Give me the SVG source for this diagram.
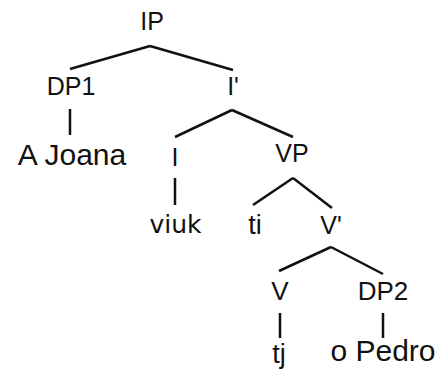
<svg xmlns="http://www.w3.org/2000/svg" width="437" height="374" viewBox="0 0 437 374">
<style>
text{font-family:"Liberation Sans",Arial,sans-serif;fill:#111;text-anchor:middle}
.cat{font-size:25px}
.cat2{font-size:26px}
.big{font-size:30px}
.mid{font-size:27px}
.dv{font-family:"DejaVu Sans",Verdana,sans-serif;font-size:25px}
.edges line{stroke:#111;stroke-width:2.5;stroke-linecap:butt}
</style>
<rect width="437" height="374" fill="#fff"/>
<g class="edges" id="connectors">
<line x1="150" y1="46" x2="70" y2="69"/>
<line x1="150" y1="46" x2="233" y2="70"/>
<line x1="70" y1="109" x2="70" y2="135"/>
<line x1="232" y1="110" x2="175" y2="137"/>
<line x1="232" y1="110" x2="293" y2="137"/>
<line x1="175" y1="178" x2="175" y2="205"/>
<line x1="293" y1="178" x2="253" y2="205"/>
<line x1="293" y1="178" x2="332" y2="208"/>
<line x1="331" y1="247" x2="279" y2="271"/>
<line x1="331" y1="247" x2="383" y2="274"/>
<line x1="280" y1="313" x2="280" y2="338"/>
<line x1="383" y1="313" x2="383" y2="338"/>
</g>
<g id="IP"><text class="cat" x="152" y="30">IP</text></g>
<g id="DP1"><text class="cat" x="71" y="95">DP1</text></g>
<g id="Ibar"><text class="cat" x="233" y="95">I'</text></g>
<g id="AJoana"><text class="big" x="72" y="165">A Joana</text></g>
<g id="I"><text class="cat" x="175" y="166">I</text></g>
<g id="VP"><text class="cat" x="292" y="162">VP</text></g>
<g id="viuk"><text class="dv" x="175.5" y="233">viuk</text></g>
<g id="ti"><text class="mid" x="255" y="234">ti</text></g>
<g id="Vbar"><text class="cat" x="331" y="234">V'</text></g>
<g id="V"><text class="cat2" x="280" y="300">V</text></g>
<g id="DP2"><text class="cat2" x="383" y="300">DP2</text></g>
<g id="tj"><text class="mid" x="279" y="363">tj</text></g>
<g id="oPedro"><text class="big" x="383" y="361">o Pedro</text></g>
</svg>
